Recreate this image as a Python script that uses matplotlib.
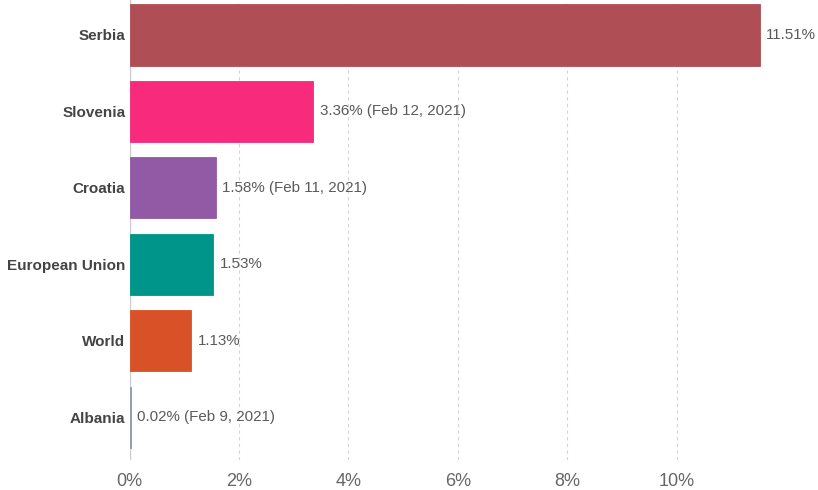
import matplotlib
matplotlib.use("Agg")
import matplotlib.pyplot as plt

countries = ["Serbia", "Slovenia", "Croatia", "European Union", "World", "Albania"]
values = [11.51, 3.36, 1.58, 1.53, 1.13, 0.02]
value_labels = ["11.51%", "3.36% (Feb 12, 2021)", "1.58% (Feb 11, 2021)",
                "1.53%", "1.13%", "0.02% (Feb 9, 2021)"]
colors = ["#B04E56", "#F72A7C", "#925AA5", "#00958A", "#D95127", "#8E9AAE"]
xticks = [0, 2, 4, 6, 8, 10]
xtick_labels = ["0%", "2%", "4%", "6%", "8%", "10%"]

plt.rcParams['font.family'] = ['Liberation Sans', 'DejaVu Sans']

fig = plt.figure(figsize=(8.18, 4.9), dpi=100)
ax = fig.add_axes([129.5/818, 30/490, (786.5-129.5)/818, 460/490])

ypos = list(range(len(countries)))
ax.barh(ypos, values, height=0.8, color=colors, edgecolor=colors, linewidth=0.6, zorder=3)

for y, v, lab in zip(ypos, values, value_labels):
    ax.annotate(lab, xy=(v, y), xytext=(4.5, 0), textcoords="offset points",
                va="center", ha="left", fontsize=10.9, color="#5a5a5a", zorder=4)

ax.set_xlim(0, 12)
ax.set_ylim(5.56, -0.457)
ax.set_yticks(ypos)
ax.set_yticklabels(countries, fontsize=11, fontweight="bold", color="#444444")
ax.set_xticks(xticks)
ax.set_xticklabels(xtick_labels, fontsize=13, color="#666666")
ax.tick_params(axis="y", length=0, pad=3)
ax.tick_params(axis="x", length=0, pad=9)

for x in xticks[1:]:
    ax.axvline(x, color="#d4d4d4", linestyle=(0, (3, 3)), linewidth=0.8, zorder=1)
ax.axvline(0, color="#cccccc", linewidth=1.0, zorder=2)

for s in ax.spines.values():
    s.set_visible(False)

fig.savefig("out.png", dpi=100)
